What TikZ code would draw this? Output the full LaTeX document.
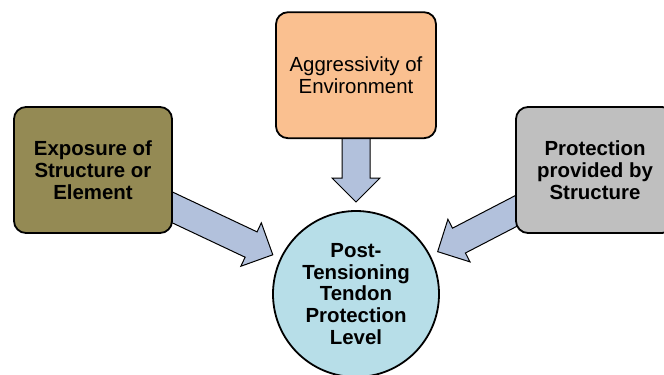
\documentclass[tikz,border=0pt]{standalone}
\usepackage{fontspec}
\setmainfont{Liberation Sans}
\usetikzlibrary{positioning,calc,backgrounds}
\definecolor{khaki}{RGB}{148,138,84}
\definecolor{peach}{RGB}{250,192,144}
\definecolor{greybox}{RGB}{191,191,191}
\definecolor{paleblue}{RGB}{183,222,232}
\definecolor{steel}{RGB}{178,193,220}

% block arrow from the centre of #1 up to a fixed gap before #2
\newcommand\fatarrow[2]{%
  \coordinate (tip) at ($(#2)!92bp!(#1)$);
  \coordinate (hb) at ($(tip)!24bp!(#1)$);
  \draw[flow] ($(#1)!14bp!90:(tip)$) -- ($(hb)!14bp!90:(tip)$) -- ($(hb)!24bp!90:(tip)$)
    -- (tip) -- ($(hb)!24bp!-90:(tip)$) -- ($(hb)!14bp!-90:(tip)$) -- ($(#1)!14bp!-90:(tip)$) -- cycle;}

\begin{document}
\begin{tikzpicture}[x=1bp,y=1bp,
    box/.style={draw,line width=1.8bp,rounded corners=12bp,align=center,minimum width=158bp,minimum height=126bp,inner sep=2bp,font=\fontsize{20.5}{22}\selectfont},
    flow/.style={draw,line width=1bp,fill=steel,line join=miter}]
  \useasboundingbox (0,0) rectangle (664,-374);
  \node[draw,circle,line width=1.8bp,fill=paleblue,minimum size=166bp,inner sep=0pt,align=center,
    font=\fontsize{20.5}{22}\selectfont\bfseries] (lvl) at (356,-294) {Post-\\Tensioning\\Tendon\\Protection\\Level};
  \node[box,fill=peach,minimum width=160bp,above=71bp of lvl] (env) {Aggressivity of\\Environment};
  \node[box,fill=khaki,font=\fontsize{20.5}{22}\selectfont\bfseries] (exp) at (93,-170) {Exposure of\\Structure or\\Element};
  \node[box,fill=greybox,font=\fontsize{20.5}{22}\selectfont\bfseries] (pro) at (595,-170) {Protection\\provided by\\Structure};
  \begin{scope}[on background layer]
    \fatarrow{exp}{lvl}
    \fatarrow{env}{lvl}
    \fatarrow{pro}{lvl}
  \end{scope}
\end{tikzpicture}
\end{document}
